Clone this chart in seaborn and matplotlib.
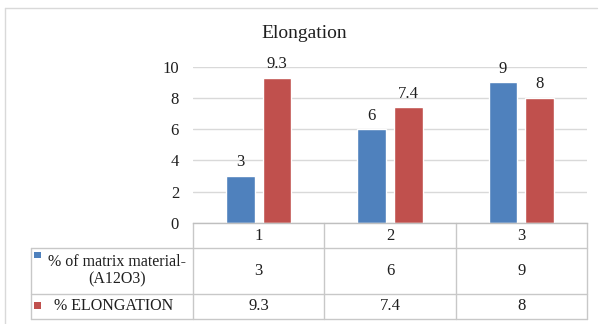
import matplotlib
matplotlib.use("Agg")
import matplotlib.pyplot as plt
from matplotlib.lines import Line2D
from matplotlib.patches import Rectangle
import seaborn as sns
import pandas as pd

# Data
samples = ["1", "2", "3"]
matrix_pct = [3, 6, 9]
elongation_pct = [9.3, 7.4, 8]
series_names = ["% of matrix material-\n(A12O3)", "% ELONGATION"]
colors = ["#4F81BD", "#C0504D"]
title = "Elongation"
yticks = [0, 2, 4, 6, 8, 10]

df = pd.DataFrame({
    "Sample": samples * 2,
    "Value": matrix_pct + elongation_pct,
    "Series": [series_names[0]] * len(samples) + [series_names[1]] * len(samples),
})

sns.set_theme(style="white")
plt.rcParams["font.family"] = "serif"
plt.rcParams["font.serif"] = ["Liberation Serif", "Times New Roman", "DejaVu Serif"]

W, H = 600, 324
fig = plt.figure(figsize=(W / 100, H / 100), dpi=100)
fig.patch.set_facecolor("white")

# plot area in pixels (left, right, top of 10-line, zero line)
PL, PR, PT, PB = 193, 587, 66.7, 222.7
ax = fig.add_axes([PL / W, 1 - PB / H, (PR - PL) / W, (PB - PT) / H])
ax.set_facecolor("white")

sns.barplot(data=df, x="Sample", y="Value", hue="Series", palette=colors,
            width=0.56, gap=0.22, ax=ax, legend=False, saturation=1)

ax.set_ylim(0, 10)
ax.set_xlim(-0.5, len(samples) - 0.5)
ax.set_yticks(yticks)
ax.set_yticklabels([str(t) for t in yticks])
ax.yaxis.grid(True, color="#d9d9d9", linewidth=1)
ax.set_axisbelow(True)
ax.tick_params(axis="y", length=0, pad=10, labelsize=12, labelcolor="#1f1f1f")
ax.set_xticks([])
ax.set_xlabel("")
ax.set_ylabel("")
for side in ["top", "right", "left"]:
    ax.spines[side].set_visible(False)
ax.spines["bottom"].set_color("#bfbfbf")
ax.spines["bottom"].set_linewidth(1)

for cont in ax.containers:
    ax.bar_label(cont, labels=[f"{v:g}" for v in cont.datavalues],
                 padding=4, fontsize=12, color="#1f1f1f")

fig.text(304 / W, 1 - 33 / H, title, ha="center", va="center",
         fontsize=14, color="#1f1f1f")

# data table below the plot
def fx(px):
    return (px - PL) / (PR - PL)

def fy(py):
    return (PB - py) / (PB - PT)

line_kw = dict(color="#c8c8c8", linewidth=1, transform=ax.transAxes, clip_on=False)
row_bounds = [222.7, 248, 294, 319]
tab_left = 31

# horizontal rules
for rb in row_bounds[1:]:
    ax.add_line(Line2D([fx(tab_left), 1], [fy(rb)] * 2, **line_kw))
# vertical rules
ax.add_line(Line2D([fx(tab_left)] * 2, [fy(row_bounds[1]), fy(row_bounds[3])], **line_kw))
for k in range(len(samples) + 1):
    xf = k / len(samples)
    ax.add_line(Line2D([xf, xf], [0, fy(row_bounds[3])], **line_kw))

xt = ax.get_xaxis_transform()
txt_kw = dict(ha="center", va="center", fontsize=12, color="#1f1f1f", clip_on=False)
row_centers = [(row_bounds[i] + row_bounds[i + 1]) / 2 for i in range(3)]
for i, s in enumerate(samples):
    ax.text(i, fy(row_centers[0] + 1), s, transform=xt, **txt_kw)
    ax.text(i, fy(row_centers[1]), f"{matrix_pct[i]:g}", transform=xt, **txt_kw)
    ax.text(i, fy(row_centers[2]), f"{elongation_pct[i]:g}", transform=xt, **txt_kw)

# row headers with colour keys
hdr_kw = dict(txt_kw, fontsize=11.5)
ax.text(fx(117), fy(row_centers[1]), series_names[0], transform=ax.transAxes,
        multialignment="center", linespacing=1.1, **hdr_kw)
ax.text(fx(114), fy(row_centers[2]), series_names[1], transform=ax.transAxes, **hdr_kw)
sq = 6.5
for color, cy in zip(colors, [255, 305.5]):
    ax.add_patch(Rectangle((fx(34), fy(cy + sq / 2)), sq / (PR - PL), sq / (PB - PT),
                           facecolor=color, edgecolor="none",
                           transform=ax.transAxes, clip_on=False))

# chart frame
fig.add_artist(Line2D([5 / W, 597 / W], [1 - 8 / H] * 2, color="#d9d9d9",
                      linewidth=1, transform=fig.transFigure))
fig.add_artist(Line2D([5 / W] * 2, [1 - 8 / H, 0], color="#d9d9d9",
                      linewidth=1, transform=fig.transFigure))

fig.savefig("out.png", dpi=100, facecolor="white")
